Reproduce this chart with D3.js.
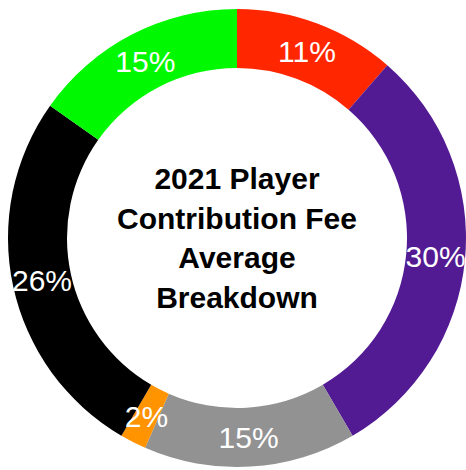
<!DOCTYPE html>
<html>
<head>
<meta charset="utf-8">
<script src="https://cdn.jsdelivr.net/npm/d3@7"></script>
<style>
  html, body { margin: 0; padding: 0; background: #fff; }
</style>
</head>
<body>
<div id="chart"></div>
<script>
// slice data, clockwise from 12 o'clock
const categories = ["A", "B", "C", "D", "E", "F"];
const values = [11.4, 30.2, 15.0, 1.85, 26.4, 15.2];
const labels = ["11%", "30%", "15%", "2%", "26%", "15%"];
const colors = ["#ff2600", "#531b93", "#929292", "#ff9300", "#000000", "#00f900"];
const titleLines = ["2021 Player", "Contribution Fee", "Average", "Breakdown"];

const width = 466,
  height = 470,
  cx = 237,
  cy = 238,
  outerR = 229,
  innerR = 170;

const svg = d3
  .select("#chart")
  .append("svg")
  .attr("width", width)
  .attr("height", height)
  .attr("font-family", "'Liberation Sans', Helvetica, Arial, sans-serif");

const pie = d3.pie().sort(null).value((d) => d.value);
const arc = d3.arc().innerRadius(innerR).outerRadius(outerR);

const data = categories.map((c, i) => ({ name: c, value: values[i], label: labels[i], color: colors[i] }));
const arcs = pie(data);

const g = svg.append("g").attr("transform", `translate(${cx},${cy})`);

g.selectAll("path")
  .data(arcs)
  .join("path")
  .attr("fill", (d) => d.data.color)
  .attr("d", arc);

g.selectAll("text.pct")
  .data(arcs)
  .join("text")
  .attr("class", "pct")
  .attr("transform", (d) => `translate(${arc.centroid(d)})`)
  .attr("text-anchor", "middle")
  .attr("dy", "0.36em")
  .attr("fill", "#fff")
  .attr("font-size", 30)
  .text((d) => d.data.label);

// centre title
const lh = 39.5;
g.append("text")
  .attr("text-anchor", "middle")
  .attr("font-size", 30)
  .attr("font-weight", "bold")
  .attr("fill", "#000")
  .selectAll("tspan")
  .data(titleLines)
  .join("tspan")
  .attr("x", 0)
  .attr("y", (d, i) => 189 - cy + i * lh)
  .text((d) => d);
</script>
</body>
</html>
